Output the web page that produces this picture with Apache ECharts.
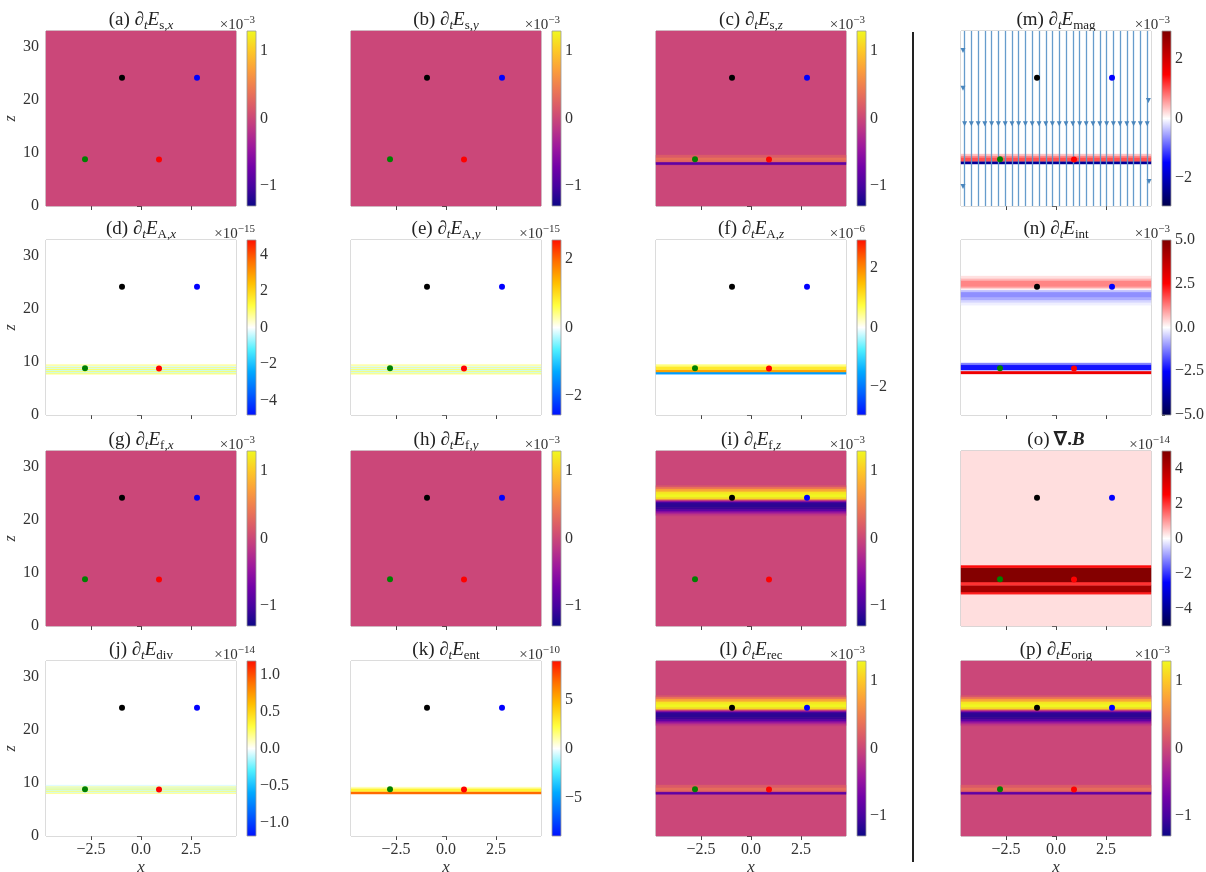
<!DOCTYPE html>
<html><head><meta charset="utf-8">
<script src="https://cdn.jsdelivr.net/npm/echarts@6/dist/echarts.min.js"></script>
<style>html,body{margin:0;padding:0;background:#fff}#c{width:1206px;height:872px}</style>
</head><body><div id="c"></div>
<script>
// ================= DATA =================
const X_MIN = -4.75, X_MAX = 4.75, Z_MIN = 0, Z_MAX = 33;
const xTicks = [-2.5, 0, 2.5];
const zTicks = [0, 10, 20, 30];

// probe points (black, blue, green, red)
const pointX = [-0.95, 2.8, -2.8, 0.9];
const pointZ = [24.2, 24.2, 8.8, 8.75];

// panel (m) field lines
const streamX = [-4.57,-4.23,-3.89,-3.56,-3.22,-2.88,-2.54,-2.20,-1.87,-1.53,-1.19,-0.85,-0.51,-0.18,
                 0.16,0.50,0.84,1.18,1.51,1.85,2.19,2.53,2.87,3.20,3.54,3.88,4.22,4.56];
const streamArrowZ = 15.5;
const edgeArrowX = [-4.65, -4.65, -4.65, 4.62, 4.65];
const edgeArrowZ = [29.3, 22.2, 3.7, 19.9, 4.6];

// panel letters and title pieces
const panelLetters = ['a','b','c','d','e','f','g','h','i','j','k','l','m','n','o','p'];
const subRoman  = ['s,','s,','s,','A,','A,','A,','f,','f,','f,','div','ent','rec','mag','int','','orig'];
const subItalic = ['x','y','z','x','y','z','x','y','z','','','','','','',''];
const expText   = ['\u22123','\u22123','\u22123','\u221215','\u221215','\u22126','\u22123','\u22123','\u22123',
                   '\u221214','\u221210','\u22123','\u22123','\u22123','\u221214','\u22123'];

// colorbar limits and ticks (in units of the exponent)
const cbMax = [1.3,1.3,1.3,4.8,2.55,2.95,1.3,1.3,1.3,1.18,8.9,1.3,2.95,5,5,1.3];
const cbTicks = [[-1,0,1],[-1,0,1],[-1,0,1],[-4,-2,0,2,4],[-2,0,2],[-2,0,2],[-1,0,1],[-1,0,1],[-1,0,1],
                 [-1,-0.5,0,0.5,1],[-5,0,5],[-1,0,1],[-2,0,2],[-5,-2.5,0,2.5,5],[-4,-2,0,2,4],[-1,0,1]];
const cbDecimals = [0,0,0,0,0,0,0,0,0,1,0,0,0,1,0,0];
const cmapName = ['plasma','plasma','plasma','jetw','jetw','jetw','plasma','plasma','plasma',
                  'jetw','jetw','plasma','seismic','seismic','seismic','plasma'];

// z-profiles: [zFrom, zTo, value]
const profA = [[0,33,0]];
const profB = [[0,33,0]];
const profC = [[0,33,0],[7.8,8.3,-0.85],[8.3,8.6,0.25],[8.6,9.2,0.35],[9.2,9.6,0.18]];
const profD = [[0,33,0],[7.7,7.9,0.9],[7.9,8.1,-0.35],[8.1,8.3,1.0],[8.3,8.5,-0.4],[8.5,8.7,1.0],
               [8.7,8.9,-0.35],[8.9,9.1,0.9],[9.1,9.3,-0.3],[9.3,9.5,0.6]];
const profE = [[0,33,0],[7.7,7.9,0.45],[7.9,8.1,-0.18],[8.1,8.3,0.5],[8.3,8.5,-0.2],[8.5,8.7,0.5],
               [8.7,8.9,-0.18],[8.9,9.1,0.45],[9.1,9.3,-0.15],[9.3,9.5,0.3]];
const profF = [[0,33,0],[7.7,8.1,-1.6],[8.1,8.55,1.75],[8.55,9.2,1.0],[9.2,9.5,0.5]];
const profG = [[0,33,0]];
const profH = [[0,33,0]];
const profI = [[0,33,0],[20.8,21.1,-0.1],[21.1,21.4,-0.3],[21.4,21.7,-0.55],[21.7,22.0,-0.85],[22.0,22.3,-1.05],
               [22.3,23.2,-1.15],[23.2,23.5,-1.0],[23.5,23.7,-0.5],[23.7,23.9,0.3],[23.9,24.2,1.1],[24.2,24.9,1.28],
               [24.9,25.3,1.2],[25.3,25.6,1.0],[25.6,25.9,0.75],[25.9,26.2,0.45],[26.2,26.5,0.15]];
const profJ = [[0,33,0],[8.0,8.2,0.22],[8.2,8.4,-0.09],[8.4,8.6,0.25],[8.6,8.8,-0.1],[8.8,9.0,0.25],
               [9.0,9.2,-0.09],[9.2,9.4,0.2],[9.4,9.6,-0.05]];
const profK = [[0,33,0],[7.9,8.4,6.8],[8.4,9.0,2.6],[9.0,9.2,1.0]];
const profL = [[0,33,0],[7.85,8.35,-0.85],[8.35,8.55,0.2],[8.55,9.2,0.33],[9.2,9.6,0.18],
               [20.8,21.1,-0.1],[21.1,21.4,-0.3],[21.4,21.7,-0.55],[21.7,22.0,-0.85],[22.0,22.3,-1.05],
               [22.3,23.2,-1.15],[23.2,23.5,-1.0],[23.5,23.7,-0.5],[23.7,23.9,0.3],[23.9,24.2,1.1],[24.2,24.9,1.28],
               [24.9,25.3,1.2],[25.3,25.6,1.0],[25.6,25.9,0.75],[25.9,26.2,0.45],[26.2,26.5,0.15]];
const profM = [[0,33,0],[7.9,8.45,-2.3],[8.45,9.2,1.0],[9.2,9.5,0.7],[9.5,9.8,0.35]];
const profN = [[0,33,0],[7.75,8.3,2.8],[8.3,8.5,-0.3],[8.5,9.5,-2.3],[9.5,9.8,-1.2],
               [20.7,21.2,-0.15],[21.2,21.7,-0.4],[21.7,22.2,-0.8],[22.2,23.2,-1.1],[23.2,23.6,-0.6],
               [23.6,23.9,0.1],[23.9,24.2,0.8],[24.2,25.4,1.2],[25.4,25.8,0.7],[25.8,26.2,0.3]];
const profO = [[0,33,0.32],[6.0,6.4,2.2],[6.4,7.7,4.3],[7.7,8.3,2.0],[8.3,11.0,4.9],[11.0,11.4,2.4]];
const profP = profL.map(r => r.slice());
const profiles = [profA,profB,profC,profD,profE,profF,profG,profH,profI,profJ,profK,profL,profM,profN,profO,profP];

// ================= STYLE / LAYOUT =================
const CMAPS = {
  plasma: ['#0d0887','#46039f','#7201a8','#9c179e','#bd3786','#d8576b','#ed7953','#fb9f3a','#fdca26','#f0f921'],
  jetw: ['#0010ff','#0060ff','#00aaff','#50f0ff','#ffffff','#ffff40','#ffc000','#ff7000','#ff1000'],
  seismic: ['#00004c','#0000ff','#ffffff','#ff0000','#7f0000']
};
const POINT_COLORS = ['#000000','#0000ff','#008000','#ff0000'];
const COL_LEFT = [46, 351, 656, 961];
const ROW_TOP = [31, 240, 451, 661];
const PW = 190, PH = 175, CB_GAP = 11, CB_W = 9;
const FONT = 'Liberation Serif';
const TXT = '#333';

const fmt = (v, d) => (v < -1e-9 ? '\u2212' : '') + Math.abs(v).toFixed(d);

const grids = [], xAxes = [], yAxes = [], series = [], visualMaps = [], graphics = [];

const richTitle = {
  n:  {fontFamily: FONT, fontSize: 19, lineHeight: 24, fill: '#222'},
  ni: {fontFamily: FONT, fontSize: 19, lineHeight: 24, fontStyle: 'italic', fill: '#222'},
  sr: {fontFamily: FONT, fontSize: 13, lineHeight: 13, verticalAlign: 'bottom', fill: '#222'},
  si: {fontFamily: FONT, fontSize: 13, lineHeight: 13, fontStyle: 'italic', verticalAlign: 'bottom', fill: '#222'},
  bn: {fontFamily: FONT, fontSize: 19, lineHeight: 24, fontWeight: 'bold', fill: '#222'},
  bi: {fontFamily: FONT, fontSize: 19, lineHeight: 24, fontWeight: 'bold', fontStyle: 'italic', fill: '#222'}
};
const richExp = {
  h: {fontSize: 1, lineHeight: 18, fill: 'rgba(0,0,0,0)'},
  m: {fontFamily: FONT, fontSize: 15, lineHeight: 15, verticalAlign: 'bottom', fill: TXT},
  p: {fontFamily: FONT, fontSize: 11, lineHeight: 11, verticalAlign: 'top', fill: TXT}
};

panelLetters.forEach((letter, i) => {
  const row = i < 12 ? Math.floor(i / 3) : i - 12;
  const col = i < 12 ? i % 3 : 3;
  const left = COL_LEFT[col], top = ROW_TOP[row];
  const R = cbMax[i];
  const cmap = CMAPS[cmapName[i]];
  const gi = grids.length;

  grids.push({left: left, top: top, width: PW, height: PH, show: true, borderColor: '#a8a8a8', borderWidth: 1,
              backgroundColor: 'rgba(0,0,0,0)', containLabel: false, outerBoundsMode: 'none'});
  grids.push({left: left + PW + CB_GAP, top: top, width: CB_W, height: PH, show: false,
              containLabel: false, outerBoundsMode: 'none'});

  xAxes.push({gridIndex: gi, type: 'value', min: X_MIN, max: X_MAX,
    axisLine: {show: false}, splitLine: {show: false},
    axisTick: {show: true, customValues: xTicks, length: 4, lineStyle: {color: '#444', width: 1}},
    axisLabel: {show: row === 3, customValues: xTicks, formatter: v => fmt(v, 1), margin: 6,
                fontFamily: FONT, fontSize: 16, color: TXT},
    name: row === 3 ? 'x' : '', nameLocation: 'middle', nameGap: 20,
    nameTextStyle: {fontFamily: FONT, fontStyle: 'italic', fontSize: 17, color: TXT}});
  yAxes.push({gridIndex: gi, type: 'value', min: Z_MIN, max: Z_MAX,
    axisLine: {show: false}, splitLine: {show: false},
    axisTick: {show: true, customValues: zTicks, length: 4, lineStyle: {color: '#444', width: 1}},
    axisLabel: {show: col === 0, customValues: zTicks, formatter: v => fmt(v, 0), margin: 7,
                fontFamily: FONT, fontSize: 16, color: TXT},
    name: col === 0 ? 'z' : '', nameLocation: 'middle', nameGap: 20, nameRotate: 90,
    nameTextStyle: {fontFamily: FONT, fontStyle: 'italic', fontSize: 16, color: TXT}});

  xAxes.push({gridIndex: gi + 1, type: 'value', min: 0, max: 1, show: false});
  yAxes.push({gridIndex: gi + 1, type: 'value', position: 'right', min: -R, max: R,
    axisLine: {show: false}, splitLine: {show: false},
    axisTick: {show: true, customValues: cbTicks[i], length: 3, lineStyle: {color: '#444', width: 1}},
    axisLabel: {customValues: cbTicks[i], formatter: v => fmt(v, cbDecimals[i]), margin: 4,
                fontFamily: FONT, fontSize: 16, color: TXT}});

  // heat field
  const heatIdx = series.length;
  series.push({type: 'custom', xAxisIndex: gi, yAxisIndex: gi, silent: true, data: profiles[i],
    encode: {x: 0, y: 1},
    renderItem: (params, api) => {
      const a = api.coord([X_MIN, api.value(1)]);
      const b = api.coord([X_MAX, api.value(0)]);
      const c = api.visual('color');
      return {type: 'rect', shape: {x: a[0], y: a[1], width: b[0] - a[0], height: b[1] - a[1]},
              style: {fill: c, stroke: c, lineWidth: 0.4}};
    }});
  visualMaps.push({type: 'continuous', show: false, seriesIndex: heatIdx, dimension: 2,
                   min: -R, max: R, inRange: {color: cmap}});

  // colorbar
  const stops = cmap.slice().reverse().map((c, k, arr) => ({offset: k / (arr.length - 1), color: c}));
  series.push({type: 'custom', xAxisIndex: gi + 1, yAxisIndex: gi + 1, silent: true, data: [[0, -R, R]],
    renderItem: (params, api) => {
      const a = api.coord([0, api.value(2)]);
      const b = api.coord([1, api.value(1)]);
      return {type: 'rect', shape: {x: a[0], y: a[1], width: b[0] - a[0], height: b[1] - a[1]},
              style: {fill: {type: 'linear', x: 0, y: 0, x2: 0, y2: 1, colorStops: stops},
                      stroke: '#999', lineWidth: 0.8}};
    }});

  if (letter === 'm') {
    series.push({type: 'lines', coordinateSystem: 'cartesian2d', xAxisIndex: gi, yAxisIndex: gi, silent: true,
      data: streamX.map(x => ({coords: [[x, Z_MIN], [x, Z_MAX]]})),
      lineStyle: {color: '#5e97c9', width: 1.3, opacity: 0.95}, z: 3});
    series.push({type: 'scatter', xAxisIndex: gi, yAxisIndex: gi, silent: true, symbol: 'triangle',
      symbolSize: 5, symbolRotate: 180, itemStyle: {color: '#4a86bd', opacity: 1},
      data: streamX.map(x => [x, streamArrowZ]).concat(edgeArrowX.map((x, k) => [x, edgeArrowZ[k]])), z: 4});
  }

  // probe points
  series.push({type: 'scatter', xAxisIndex: gi, yAxisIndex: gi, silent: true, symbolSize: 6, z: 6,
    itemStyle: {opacity: 1},
    data: pointX.map((x, k) => ({value: [x, pointZ[k]], itemStyle: {color: POINT_COLORS[k], opacity: 1}}))});

  // title
  let t;
  if (letter === 'o') {
    t = '{n|(o) }{bn|\u2207.}{bi|B}';
  } else {
    t = '{n|(' + letter + ') \u2202}{si|t}{ni|E}{sr|' + subRoman[i] + '}' + (subItalic[i] ? '{si|' + subItalic[i] + '}' : '');
  }
  graphics.push({type: 'text', x: left + PW / 2, y: top - 11, silent: true,
    style: {text: t, rich: richTitle, align: 'center', verticalAlign: 'middle'}});
  graphics.push({type: 'text', x: left + PW + CB_GAP + CB_W - 1, y: top + 1.5, silent: true,
    style: {text: '{h|\u200b}{m|\u00d710}{p|' + expText[i] + '}', rich: richExp, align: 'right', verticalAlign: 'bottom'}});
});

graphics.push({type: 'line', silent: true, shape: {x1: 913, y1: 32, x2: 913, y2: 862},
               style: {stroke: '#222', lineWidth: 2}});

const chart = echarts.init(document.getElementById('c'), null, {renderer: 'canvas', width: 1206, height: 872});
chart.setOption({
  animation: false,
  backgroundColor: '#ffffff',
  grid: grids, xAxis: xAxes, yAxis: yAxes, visualMap: visualMaps, series: series, graphic: graphics
});
</script></body></html>
